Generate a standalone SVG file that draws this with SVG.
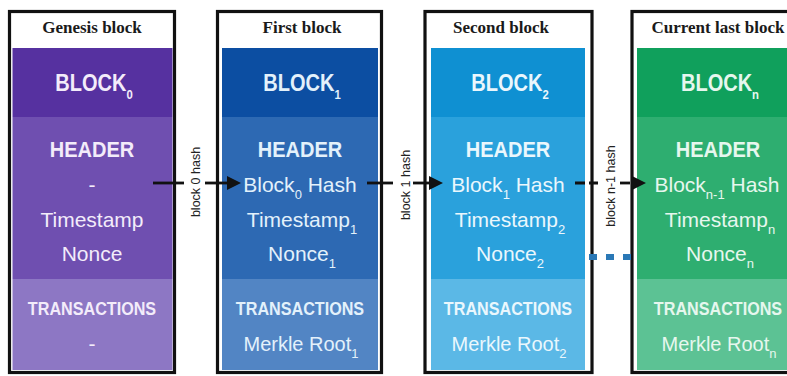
<svg xmlns="http://www.w3.org/2000/svg" width="787" height="376" viewBox="0 0 787 376">
<style>
.frame{fill:#fff;stroke:#111;stroke-width:3.2}
.title{font-family:"Liberation Serif",serif;font-weight:bold;font-size:17px;fill:#1a1a1a;text-anchor:middle}
.bold{font-family:"Liberation Sans",Arial,sans-serif;font-weight:bold;text-anchor:middle}
.big{font-size:23px}
.hdr{font-size:22px}
.tx{font-size:19px}
.reg{font-family:"Liberation Sans",Arial,sans-serif;font-size:21px;text-anchor:middle}
.mk{font-size:20px}
.sub{font-size:13px}
.lbl{font-family:"Liberation Sans",Arial,sans-serif;font-size:12.5px;fill:#222;text-anchor:middle}
.conn{stroke:#111;stroke-width:2.8;fill:none}
.dash{stroke-dasharray:10 4}
.t0{fill:#f3ecfa}.t1{fill:#e3f1fb}.t2{fill:#eaf7fd}.t3{fill:#e6f7ee}
</style>
<defs>
<marker id="ah" markerUnits="userSpaceOnUse" markerWidth="14" markerHeight="14" refX="0" refY="7" orient="auto">
<path d="M0,0 L14,7 L0,14 z" fill="#111"/>
</marker>
</defs>
<rect width="787" height="376" fill="#fff"/>

<g id="genesis-block">
<rect class="frame" x="9.5" y="11.5" width="165" height="361"/>
<text class="title" x="92" y="33">Genesis block</text>
<rect x="12.5" y="48" width="160" height="69" fill="#5631a0"/>
<rect x="12.5" y="117" width="160" height="162" fill="#6f4fb0"/>
<rect x="12.5" y="279" width="160" height="91" fill="#8d77c4"/>
<text class="bold big t0" transform="translate(94 91) scale(0.87 1)">BLOCK<tspan class="sub" dy="8">0</tspan></text>
<text class="bold hdr t0" transform="translate(92 157) scale(0.91 1)">HEADER</text>
<text class="reg t0" x="92" y="192">-</text>
<text class="reg t0" x="92" y="227">Timestamp</text>
<text class="reg t0" x="92" y="261">Nonce</text>
<text class="bold tx t0" transform="translate(92 315) scale(0.85 1)">TRANSACTIONS</text>
<text class="reg t0" x="92" y="351">-</text>
</g>

<g id="first-block">
<rect class="frame" x="217.5" y="11.5" width="164" height="361"/>
<text class="title" x="302" y="33">First block</text>
<rect x="222" y="48" width="156" height="69" fill="#0c4ea2"/>
<rect x="222" y="117" width="156" height="162" fill="#2d69b3"/>
<rect x="222" y="279" width="156" height="91" fill="#5285c4"/>
<text class="bold big t1" transform="translate(302 91) scale(0.87 1)">BLOCK<tspan class="sub" dy="8">1</tspan></text>
<text class="bold hdr t1" transform="translate(300 157) scale(0.91 1)">HEADER</text>
<text class="reg t1" x="300" y="192">Block<tspan class="sub" dy="7">0</tspan><tspan dy="-7"> Hash</tspan></text>
<text class="reg t1" x="302" y="227">Timestamp<tspan class="sub" dy="7">1</tspan></text>
<text class="reg t1" x="302" y="261">Nonce<tspan class="sub" dy="7">1</tspan></text>
<text class="bold tx t1" transform="translate(300 315) scale(0.85 1)">TRANSACTIONS</text>
<text class="reg mk t1" x="301" y="351">Merkle Root<tspan class="sub" dy="7">1</tspan></text>
</g>

<g id="second-block">
<rect class="frame" x="425" y="11.5" width="167" height="361"/>
<text class="title" x="501" y="33">Second block</text>
<rect x="431" y="48" width="154" height="69" fill="#0f90d2"/>
<rect x="431" y="117" width="154" height="162" fill="#2aa1dc"/>
<rect x="431" y="279" width="154" height="91" fill="#5bb8e6"/>
<text class="bold big t2" transform="translate(510 91) scale(0.87 1)">BLOCK<tspan class="sub" dy="8">2</tspan></text>
<text class="bold hdr t2" transform="translate(508 157) scale(0.91 1)">HEADER</text>
<text class="reg t2" x="508" y="192">Block<tspan class="sub" dy="7">1</tspan><tspan dy="-7"> Hash</tspan></text>
<text class="reg t2" x="510" y="227">Timestamp<tspan class="sub" dy="7">2</tspan></text>
<text class="reg t2" x="510" y="261">Nonce<tspan class="sub" dy="7">2</tspan></text>
<text class="bold tx t2" transform="translate(508 315) scale(0.85 1)">TRANSACTIONS</text>
<text class="reg mk t2" x="509" y="351">Merkle Root<tspan class="sub" dy="7">2</tspan></text>
</g>

<g id="current-last-block">
<rect class="frame" x="632" y="11.5" width="175" height="361"/>
<text class="title" x="718" y="33">Current last block</text>
<rect x="637" y="48" width="165" height="69" fill="#10a05c"/>
<rect x="637" y="117" width="165" height="162" fill="#2eae70"/>
<rect x="637" y="279" width="165" height="91" fill="#5cc294"/>
<text class="bold big t3" transform="translate(720 91) scale(0.87 1)">BLOCK<tspan class="sub" dy="8">n</tspan></text>
<text class="bold hdr t3" transform="translate(718 157) scale(0.91 1)">HEADER</text>
<text class="reg t3" x="717" y="192">Block<tspan class="sub" dy="7">n-1</tspan><tspan dy="-7"> Hash</tspan></text>
<text class="reg t3" x="720" y="227">Timestamp<tspan class="sub" dy="7">n</tspan></text>
<text class="reg t3" x="720" y="261">Nonce<tspan class="sub" dy="7">n</tspan></text>
<text class="bold tx t3" transform="translate(718 315) scale(0.85 1)">TRANSACTIONS</text>
<text class="reg mk t3" x="719" y="351">Merkle Root<tspan class="sub" dy="7">n</tspan></text>
</g>

<g id="connectors">
<line class="conn" x1="153" y1="183" x2="184" y2="183"/>
<line class="conn" x1="205" y1="183" x2="227" y2="183" marker-end="url(#ah)"/>
<text class="lbl" transform="translate(199.5 182) rotate(-90)">block 0 hash</text>
<line class="conn" x1="367" y1="183" x2="393" y2="183"/>
<line class="conn" x1="413" y1="183" x2="429" y2="183" marker-end="url(#ah)"/>
<text class="lbl" transform="translate(410 185) rotate(-90)">block 1 hash</text>
<line class="conn dash" x1="575" y1="183" x2="598" y2="183"/>
<line class="conn dash" x1="620" y1="183" x2="632" y2="183" marker-end="url(#ah)"/>
<text class="lbl" transform="translate(615 186) rotate(-90)">block n-1 hash</text>
<line x1="589" y1="257" x2="632" y2="257" stroke="#2a78b6" stroke-width="6" stroke-dasharray="8 9"/>
</g>
</svg>
